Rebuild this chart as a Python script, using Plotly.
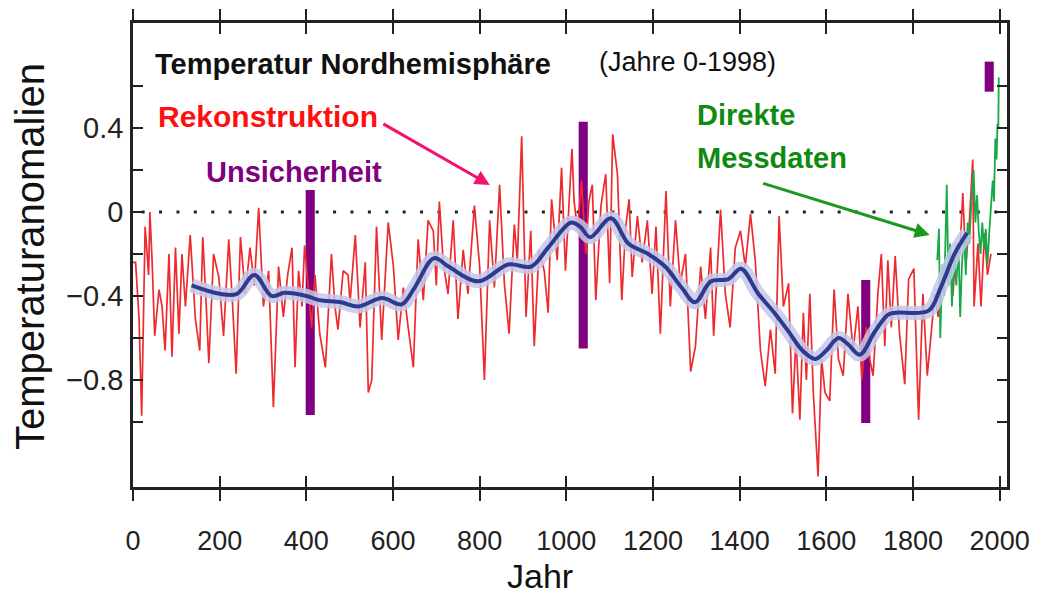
import plotly.graph_objects as go

# ---------------- data ----------------
recon_years = [0, 6, 14, 20, 28, 36, 39, 44, 50, 60, 67, 74, 83, 90, 98, 106, 113, 121, 132, 144,
               154, 161, 168, 175, 186, 198, 209, 221, 230, 238, 248, 259, 270, 280, 290, 301, 313, 324,
               336, 347, 357, 367, 374, 382, 390, 396, 404, 412, 420, 431, 444, 458, 466, 473, 485, 496,
               501, 513, 524, 536, 543, 551, 562, 574, 589, 601, 612, 624, 635, 647, 658, 670, 681, 693,
               700, 707, 716, 727, 739, 750, 762, 773, 788, 800, 811, 823, 834, 846, 857, 868, 880, 887,
               897, 907, 918, 926, 937, 949, 958, 966, 979, 989, 998, 1007, 1013, 1018, 1026, 1035, 1045,
               1052, 1060, 1068, 1080, 1091, 1100, 1107, 1118, 1128, 1137, 1145, 1152, 1164, 1175, 1187,
               1198, 1207, 1217, 1230, 1240, 1252, 1263, 1275, 1287, 1298, 1310, 1321, 1333, 1340, 1356,
               1367, 1378, 1390, 1402, 1413, 1425, 1436, 1448, 1459, 1471, 1482, 1491, 1501, 1513, 1522,
               1530, 1539, 1547, 1554, 1562, 1570, 1581, 1589, 1597, 1608, 1618, 1628, 1639, 1650, 1662,
               1673, 1682, 1692, 1700, 1708, 1719, 1727, 1735, 1742, 1750, 1759, 1769, 1781, 1790, 1802,
               1813, 1823, 1833, 1842, 1850, 1858, 1866, 1875, 1884, 1892, 1900, 1908, 1915, 1922, 1930,
               1938, 1941, 1950, 1957, 1965, 1972, 1980]
recon_values = [-0.24, -0.24, -0.51, -0.97, -0.07, -0.30, 0.00, -0.23, -0.59, -0.37, -0.45, -0.66, -0.20,
                -0.69, -0.17, -0.58, -0.20, -0.45, -0.11, -0.51, -0.66, -0.12, -0.40, -0.72, -0.20, -0.31,
                -0.59, -0.13, -0.45, -0.77, -0.12, -0.39, -0.17, -0.35, 0.02, -0.45, -0.28, -0.93, -0.26,
                -0.50, -0.30, -0.17, -0.74, -0.28, -0.45, -0.16, -0.35, -0.55, -0.30, -0.58, -0.74, -0.20,
                -0.45, -0.56, -0.28, -0.30, -0.43, -0.11, -0.55, -0.24, -0.86, -0.80, -0.07, -0.61, -0.05,
                -0.26, -0.61, -0.36, -0.55, -0.74, -0.13, -0.42, -0.04, -0.09, -0.35, 0.05, -0.24, -0.39,
                -0.04, -0.51, -0.18, -0.39, 0.03, -0.26, -0.80, -0.04, -0.36, 0.13, -0.34, -0.58, -0.06,
                -0.23, 0.36, -0.50, -0.09, -0.64, -0.18, -0.28, -0.48, 0.06, -0.23, 0.21, -0.28, 0.10,
                0.30, 0.05, -0.09, 0.15, -0.20, 0.05, 0.13, -0.42, 0.03, 0.18, -0.34, 0.37, 0.18, -0.42,
                -0.07, 0.06, -0.31, -0.02, -0.24, -0.04, -0.39, -0.07, -0.58, 0.10, -0.45, -0.04, -0.34,
                -0.20, -0.76, -0.64, -0.26, -0.51, -0.17, -0.59, 0.01, -0.39, -0.55, -0.17, -0.09, -0.26,
                -0.01, -0.23, -0.66, -0.83, -0.56, -0.77, -0.02, -0.45, -0.34, -0.96, -0.60, -0.99, -0.48,
                -0.80, -0.39, -0.86, -1.26, -0.70, -0.86, -0.90, -0.37, -0.70, -0.78, -0.39, -0.66, -0.45,
                -0.80, -0.55, -0.70, -0.78, -0.39, -0.20, -0.64, -0.23, -0.55, -0.21, -0.58, -0.82, -0.32,
                -0.27, -0.99, -0.39, -0.78, -0.58, -0.39, -0.50, -0.35, -0.30, -0.20, -0.40, -0.15, -0.20,
                0.09, -0.25, -0.05, 0.25, -0.45, -0.15, -0.45, -0.10, -0.30, -0.20]

instr_years = [1856, 1860, 1863, 1868, 1872, 1878, 1882, 1886, 1890, 1895, 1900, 1905, 1909, 1913, 1918,
               1922, 1926, 1930, 1935, 1940, 1944, 1948, 1952, 1956, 1960, 1964, 1968, 1972, 1976, 1980,
               1984, 1987, 1990, 1993, 1995, 1997, 1998]
instr_values = [-0.23, -0.08, -0.60, -0.25, -0.40, 0.13, -0.35, -0.15, -0.45, -0.20, -0.35, -0.15, -0.50,
                -0.25, -0.10, -0.30, -0.05, -0.15, 0.05, 0.20, -0.05, 0.08, -0.10, -0.20, -0.05, -0.18,
                -0.08, -0.25, -0.10, 0.05, 0.15, 0.05, 0.35, 0.25, 0.42, 0.40, 0.64]

smooth_years = [135, 200, 240, 280, 320, 350, 400, 430, 480, 520, 575, 620, 650, 695, 728, 797, 866, 919,
                958, 1011, 1032, 1055, 1103, 1143, 1189, 1228, 1266, 1297, 1334, 1374, 1403, 1443, 1480,
                1513, 1545, 1575, 1600, 1628, 1650, 1677, 1712, 1742, 1760, 1836, 1864, 1896, 1925]
smooth_values = [-0.35, -0.39, -0.39, -0.30, -0.40, -0.385, -0.40, -0.42, -0.43, -0.45, -0.41, -0.44,
                 -0.36, -0.22, -0.26, -0.33, -0.25, -0.26, -0.17, -0.05, -0.07, -0.12, -0.03, -0.15,
                 -0.20, -0.26, -0.36, -0.43, -0.33, -0.32, -0.27, -0.39, -0.48, -0.57, -0.66, -0.70,
                 -0.66, -0.60, -0.63, -0.68, -0.57, -0.49, -0.48, -0.47, -0.36, -0.20, -0.10]

uncert_years = [409, 1039, 1691, 1976]
uncert_top = [0.105, 0.43, -0.324, 0.716]
uncert_bottom = [-0.967, -0.65, -1.005, 0.573]

x_ticks = [0, 200, 400, 600, 800, 1000, 1200, 1400, 1600, 1800, 2000]
y_ticks = [-1.0, -0.8, -0.6, -0.4, -0.2, 0.0, 0.2, 0.4, 0.6]
y_ticktext = ["", "\u22120.8", "", "\u22120.4", "", "0", "", "0.4", ""]

# ---------------- figure ----------------
FONT = "Liberation Sans, Arial, sans-serif"

fig = go.Figure()

fig.add_trace(go.Scatter(x=recon_years, y=recon_values, mode="lines",
                         line=dict(color="#ee2a2f", width=1.7), hoverinfo="skip", showlegend=False))
fig.add_trace(go.Scatter(x=instr_years, y=instr_values, mode="lines",
                         line=dict(color="#19a84a", width=1.8), hoverinfo="skip", showlegend=False))
fig.add_trace(go.Scatter(x=smooth_years, y=smooth_values, mode="lines", line_shape="spline",
                         line=dict(color="rgba(195,200,232,0.85)", width=14), hoverinfo="skip",
                         showlegend=False))
fig.add_trace(go.Scatter(x=smooth_years, y=smooth_values, mode="lines", line_shape="spline",
                         line=dict(color="#2e3a92", width=4), hoverinfo="skip", showlegend=False))

fig.add_trace(go.Bar(x=uncert_years, base=uncert_bottom,
                     y=[t - b for t, b in zip(uncert_top, uncert_bottom)],
                     width=21, marker=dict(color="#800080", line=dict(width=0)),
                     hoverinfo="skip", showlegend=False))

# dummy trace for the second (inside-tick) x axis
fig.add_trace(go.Scatter(x=[None], y=[None], xaxis="x2", yaxis="y", mode="lines",
                         hoverinfo="skip", showlegend=False))

XR = [0, 2017]
YR = [-1.31, 0.9]

fig.update_layout(
    width=1045, height=591,
    margin=dict(l=133, r=38, t=23, b=104, autoexpand=False),
    paper_bgcolor="white", plot_bgcolor="white",
    font=dict(family=FONT, color="#222"),
    barmode="overlay",
    xaxis=dict(range=XR, tickvals=x_ticks, ticks="outside", ticklen=11, tickwidth=2,
               tickcolor="#222", showline=True, linecolor="#222", linewidth=2.5, mirror="ticks",
               showgrid=False, zeroline=False, tickfont=dict(size=27, family=FONT, color="#222"),
               ticklabelstandoff=17, automargin=False),
    xaxis2=dict(range=XR, overlaying="x", side="bottom", tickvals=x_ticks, ticks="inside",
                ticklen=11, tickwidth=2, tickcolor="#222", showticklabels=False, showline=False,
                mirror="ticks", showgrid=False, zeroline=False, automargin=False),
    yaxis=dict(range=YR, tickvals=y_ticks, ticktext=y_ticktext, ticks="inside", ticklen=10,
               tickwidth=2, tickcolor="#222", showline=True, linecolor="#222", linewidth=2.5,
               mirror="ticks", showgrid=False, zeroline=False,
               tickfont=dict(size=29, family=FONT, color="#222"), ticklabelstandoff=1,
               automargin=False),
)

# dotted zero line
fig.add_shape(type="line", x0=20, x1=2000, y0=0, y1=0, xref="x", yref="y",
              line=dict(color="#222", width=3, dash="3px,14.4px"), layer="below")


def px2x(px):
    return (px - 133) / 0.4335


def py2y(py):
    return (212 - py) / 210.0


def txt(text, px, py, size, color, bold=False, xanchor="left", angle=0):
    fig.add_annotation(x=px2x(px), y=py2y(py), xref="x", yref="y",
                       text=f"<b>{text}</b>" if bold else text,
                       showarrow=False, xanchor=xanchor, yanchor="middle", textangle=angle,
                       font=dict(size=size, color=color, family=FONT))


txt("Temperatur Nordhemisphäre", 153, 64, 29, "#111", bold=True)
txt("(Jahre 0-1998)", 688, 62, 27, "#111", xanchor="center")
txt("Rekonstruktion", 156, 117, 30, "#ff1010", bold=True)
txt("Unsicherheit", 204, 172, 29, "#800080", bold=True)
txt("Direkte", 695, 115, 29, "#118a11", bold=True)
txt("Messdaten", 695, 158, 29, "#118a11", bold=True)
txt("°C", 100, 50, 34, "#333", xanchor="center")

fig.add_annotation(xref="paper", yref="paper", x=(540 - 133) / 874, y=(487 - 576) / 464,
                   text="Jahr", showarrow=False, xanchor="center", yanchor="middle",
                   font=dict(size=34, family=FONT, color="#111"))
fig.add_annotation(xref="paper", yref="paper", x=(30 - 133) / 874, y=(487 - 257) / 464,
                   text="Temperaturanomalien", showarrow=False, xanchor="center", yanchor="middle",
                   textangle=-90, font=dict(size=40, family=FONT, color="#111"))

# arrows
fig.add_annotation(x=px2x(490), y=py2y(185), xref="x", yref="y", ax=-108, ay=-62,
                   showarrow=True, arrowhead=2, arrowsize=1, arrowwidth=3, arrowcolor="#f2136e", text="")
fig.add_annotation(x=px2x(930), y=py2y(235), xref="x", yref="y", ax=-168, ay=-52,
                   showarrow=True, arrowhead=2, arrowsize=1, arrowwidth=3, arrowcolor="#1a9a1a", text="")

fig.write_html("out.html", config={"displayModeBar": False},
               post_script="document.body.style.margin='0';document.body.style.overflow='hidden';")
